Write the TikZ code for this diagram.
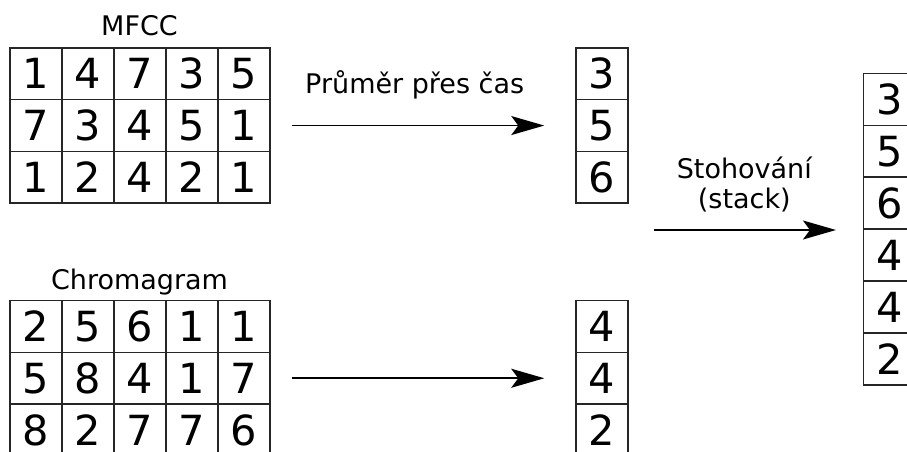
\documentclass[tikz,border=0pt]{standalone}
\usepackage{fontspec}
\setmainfont{DejaVu Sans}
\usetikzlibrary{arrows.meta}
\begin{document}
\begin{tikzpicture}[x=1pt,y=-1pt,
  cell/.style={draw=black!85,line width=1.5pt,minimum width=52pt,minimum height=51.7pt,
    inner sep=0pt,font=\fontsize{41.5}{41.5}\selectfont},
  scell/.style={cell,minimum height=51.95pt},
  lbl/.style={font=\fontsize{27}{30}\selectfont,inner sep=0pt,anchor=base},
  flow/.style={line width=1.6pt,-{Stealth[length=33pt,width=19pt,inset=7pt]}}
]
\useasboundingbox (0,0) rectangle (907,452);
\clip (0,0) rectangle (907,452);

% MFCC matrix
\node[lbl] (mfcclbl) at (139.5,35.7) {MFCC};
\foreach \row [count=\r from 0] in {{1,4,7,3,5},{7,3,4,5,1},{1,2,4,2,1}}
  \foreach \v [count=\c from 0] in \row
    \node[cell] (mf-\r-\c) at (36+52*\c,73.85+51.7*\r) {\v};

% Chromagram matrix
\node[lbl] (chrlbl) at (139.5,289) {Chromagram};
\foreach \row [count=\r from 0] in {{2,5,6,1,1},{5,8,4,1,7},{8,2,7,7,6}}
  \foreach \v [count=\c from 0] in \row
    \node[cell] (ch-\r-\c) at (36+52*\c,326.55+51.7*\r) {\v};

% time-averaged vectors
\foreach \v [count=\r from 0] in {3,5,6}
  \node[cell] (am-\r) at (602,73.85+51.7*\r) {\v};
\foreach \v [count=\r from 0] in {4,4,2}
  \node[cell] (ac-\r) at (602,326.55+51.7*\r) {\v};

% stacked vector
\foreach \v [count=\r from 0] in {3,5,6,4,4,2}
  \node[scell] (st-\r) at (889.3,99.3+51.95*\r) {\v};

% arrows
\coordinate (a1s) at ([xshift=21.7pt]mf-1-4.east);
\coordinate (a1e) at ([xshift=-31pt]am-1.west);
\draw[flow] (a1s) -- (a1e |- a1s);
\node[lbl] (avglbl) at (414.7,93.3) {Průměr přes čas};

\coordinate (a2s) at ([xshift=21.7pt]ch-1-4.east);
\coordinate (a2e) at ([xshift=-31pt]ac-1.west);
\draw[flow] (a2s) -- (a2e |- a2s);

\coordinate (a3s) at (654,230);
\coordinate (a3e) at ([xshift=-26.6pt]st-2.south west);
\draw[flow] (a3s) -- (a3e |- a3s);
\node[lbl] (stklbl) at (744.3,178.3) {Stohování};
\node[lbl] (stklbl2) at (744.3,208.5) {(stack)};
\end{tikzpicture}
\end{document}
